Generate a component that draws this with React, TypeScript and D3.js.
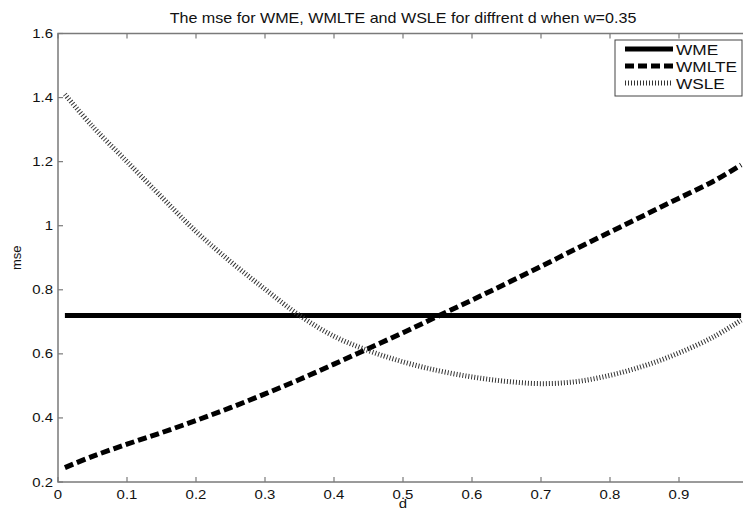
import React from 'react';
import * as d3 from 'd3';

const dValues = [0.01, 0.05, 0.1, 0.15, 0.2, 0.25, 0.3, 0.35, 0.4, 0.45, 0.5, 0.55, 0.6, 0.65, 0.7, 0.75, 0.8, 0.85, 0.9, 0.95, 0.99];
const wme = [0.72, 0.72, 0.72, 0.72, 0.72, 0.72, 0.72, 0.72, 0.72, 0.72, 0.72, 0.72, 0.72, 0.72, 0.72, 0.72, 0.72, 0.72, 0.72, 0.72, 0.72];
const wmlte = [0.245, 0.28, 0.318, 0.354, 0.392, 0.432, 0.475, 0.52, 0.568, 0.617, 0.666, 0.717, 0.768, 0.82, 0.873, 0.927, 0.98, 1.033, 1.086, 1.139, 1.19];
const wsle = [1.41, 1.31, 1.2, 1.09, 0.982, 0.888, 0.802, 0.72, 0.655, 0.61, 0.575, 0.548, 0.528, 0.514, 0.507, 0.513, 0.533, 0.563, 0.603, 0.653, 0.705];

const xTicks = [0, 0.1, 0.2, 0.3, 0.4, 0.5, 0.6, 0.7, 0.8, 0.9, 1];
const yTicks = [0.2, 0.4, 0.6, 0.8, 1, 1.2, 1.4, 1.6];
const seriesNames = ['WME', 'WMLTE', 'WSLE'];

const W = 743;
const H = 512;
const left = 58, right = 748, top = 33.5, bottom = 482;
const axisColor = '#7a7a7a';
const font = 'Liberation Sans, Arial, sans-serif';
const sx = 1.15; // the picture is a bit stretched horizontally

const styles = [
  { stroke: '#000', width: 5, dash: undefined as string | undefined },
  { stroke: '#000', width: 5, dash: '9 4' },
  { stroke: '#333', width: 5, dash: '1 2' },
];

const Txt = ({ x, y, size, anchor = 'middle', rotate = 0, children }: any) => (
  <text
    transform={`translate(${x},${y}) rotate(${rotate}) scale(${sx},1)`}
    fontFamily={font}
    fontSize={size}
    textAnchor={anchor}
    fill="#111"
  >
    {children}
  </text>
);

const App = () => {
  const x = d3.scaleLinear().domain([0, 1]).range([left, right]);
  const y = d3.scaleLinear().domain([0.2, 1.6]).range([bottom, top]);

  const line = d3
    .line<number>()
    .x((_, i) => x(dValues[i]))
    .y((v) => y(v))
    .curve(d3.curveCatmullRom);

  const series = [wme, wmlte, wsle];

  return (
    <svg width={W} height={H} style={{ position: 'absolute', left: 0, top: 0, background: '#fff' }}>
      <rect x={0} y={0} width={W} height={H} fill="#fff" />

      {/* title */}
      <Txt x={(left + right) / 2} y={23} size={14}>
        The mse for WME, WMLTE and WSLE for diffrent d when w=0.35
      </Txt>

      {/* box */}
      <rect x={left} y={top} width={right - left} height={bottom - top} fill="none" stroke={axisColor} strokeWidth={1.5} />

      {/* x ticks (the 1 label falls outside the picture) */}
      {xTicks.map((t) => (
        <g key={'x' + t}>
          <line x1={x(t)} x2={x(t)} y1={bottom} y2={bottom - 5} stroke={axisColor} strokeWidth={1.2} />
          <line x1={x(t)} x2={x(t)} y1={top} y2={top + 5} stroke={axisColor} strokeWidth={1.2} />
          {x(t) < W - 10 && <Txt x={x(t)} y={499} size={13}>{d3.format('~g')(t)}</Txt>}
        </g>
      ))}

      {/* y ticks */}
      {yTicks.map((t) => (
        <g key={'y' + t}>
          <line x1={left} x2={left + 5} y1={y(t)} y2={y(t)} stroke={axisColor} strokeWidth={1.2} />
          <line x1={right} x2={right - 5} y1={y(t)} y2={y(t)} stroke={axisColor} strokeWidth={1.2} />
          <Txt x={53} y={y(t) + 4.5} size={13} anchor="end">{d3.format('~g')(t)}</Txt>
        </g>
      ))}

      {/* axis labels */}
      <Txt x={(left + right) / 2} y={508} size={13}>d</Txt>
      <text
        transform={`translate(21,${(top + bottom) / 2}) rotate(-90)`}
        fontFamily={font}
        fontSize={13}
        textAnchor="middle"
        fill="#111"
      >
        mse
      </text>

      {/* lines */}
      <g>
        {series.map((s, i) => (
          <path
            key={seriesNames[i]}
            d={line(s) || ''}
            fill="none"
            stroke={styles[i].stroke}
            strokeWidth={styles[i].width}
            strokeDasharray={styles[i].dash}
          />
        ))}
      </g>

      {/* legend */}
      <g>
        <rect x={615} y={40} width={127} height={56} fill="#fff" stroke="#444" strokeWidth={1} />
        {seriesNames.map((name, i) => (
          <g key={name}>
            <line
              x1={625}
              x2={673}
              y1={49 + i * 17}
              y2={49 + i * 17}
              stroke={styles[i].stroke}
              strokeWidth={styles[i].width}
              strokeDasharray={styles[i].dash}
            />
            <Txt x={676} y={49 + i * 17 + 5.5} size={15} anchor="start">{name}</Txt>
          </g>
        ))}
      </g>
    </svg>
  );
};

export default App;
